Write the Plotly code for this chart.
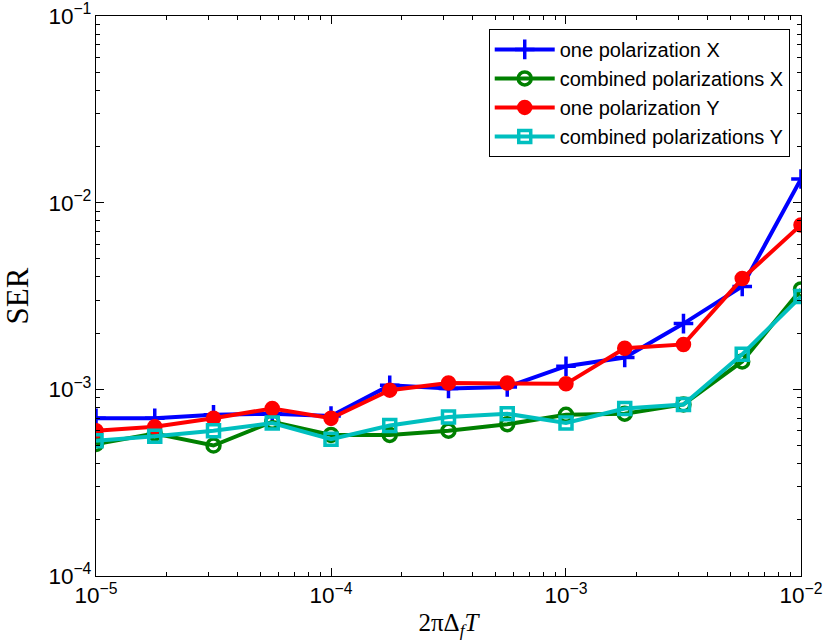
import plotly.graph_objects as go

x_vals = [1e-5, 1.778e-5, 3.162e-5, 5.623e-5, 1e-4, 1.778e-4, 3.162e-4, 5.623e-4,
          1e-3, 1.778e-3, 3.162e-3, 5.623e-3, 1e-2]

one_pol_x = [7.0e-4, 7.0e-4, 7.3e-4, 7.4e-4, 7.2e-4, 1.05e-3, 1.01e-3, 1.03e-3,
             1.33e-3, 1.48e-3, 2.25e-3, 3.56e-3, 1.34e-2]
comb_pol_x = [5.1e-4, 5.8e-4, 5.0e-4, 6.7e-4, 5.7e-4, 5.7e-4, 6.0e-4, 6.5e-4,
              7.3e-4, 7.4e-4, 8.3e-4, 1.41e-3, 3.43e-3]
one_pol_y = [6.0e-4, 6.3e-4, 7.0e-4, 7.9e-4, 7.0e-4, 9.9e-4, 1.08e-3, 1.08e-3,
             1.07e-3, 1.66e-3, 1.74e-3, 3.92e-3, 7.6e-3]
comb_pol_y = [5.3e-4, 5.6e-4, 6.0e-4, 6.6e-4, 5.4e-4, 6.4e-4, 7.1e-4, 7.4e-4,
              6.6e-4, 7.9e-4, 8.3e-4, 1.54e-3, 3.14e-3]

names = ["one polarization X", "combined polarizations X",
         "one polarization Y", "combined polarizations Y"]
series = [one_pol_x, comb_pol_x, one_pol_y, comb_pol_y]
colors = ["#0000FF", "#008000", "#FF0000", "#00BFBF"]
symbols = ["cross-thin", "circle-open", "circle", "square-open"]
sizes = [14, 13, 12, 12]

fig = go.Figure()
for name, ys, c, s, sz in zip(names, series, colors, symbols, sizes):
    fig.add_trace(go.Scatter(
        x=x_vals, y=ys, name=name, mode="lines+markers",
        line=dict(color=c, width=4),
        marker=dict(symbol=s, size=sz, color=c, line=dict(color=c, width=3.5)),
    ))

axis_common = dict(
    type="log", showgrid=False, zeroline=False, automargin=False,
    showline=True, linecolor="black", linewidth=1, mirror="allticks",
    ticks="inside", ticklen=8, tickcolor="black", dtick=1,
    exponentformat="power", showexponent="all", ticklabeloverflow="allow",
    tickfont=dict(family="Liberation Sans, Arial", size=18, color="black"),
    minor=dict(ticks="inside", ticklen=4, tickcolor="black", showgrid=False),
)

fig.update_xaxes(**axis_common, range=[-5.0001, -1.9999],
                 title=dict(text="2πΔ<sub><i>f</i></sub><i>T</i>",
                            font=dict(family="Liberation Serif, DejaVu Serif", size=25, color="black"),
                            standoff=6))
fig.update_yaxes(**axis_common, range=[-4.0001, -0.9999],
                 title=dict(text="SER",
                            font=dict(family="Liberation Serif, DejaVu Serif", size=31, color="black"),
                            standoff=14))

fig.update_layout(
    width=824, height=644,
    margin=dict(l=96, r=23, t=16, b=68),
    paper_bgcolor="white", plot_bgcolor="white",
    legend=dict(x=0.984, y=0.977, xanchor="right", yanchor="top",
                bgcolor="white", bordercolor="black", borderwidth=1,
                font=dict(family="Liberation Sans, Arial", size=20, color="black"),
                itemwidth=60, tracegroupgap=0),
    showlegend=True,
)

fig.write_html("out.html")
